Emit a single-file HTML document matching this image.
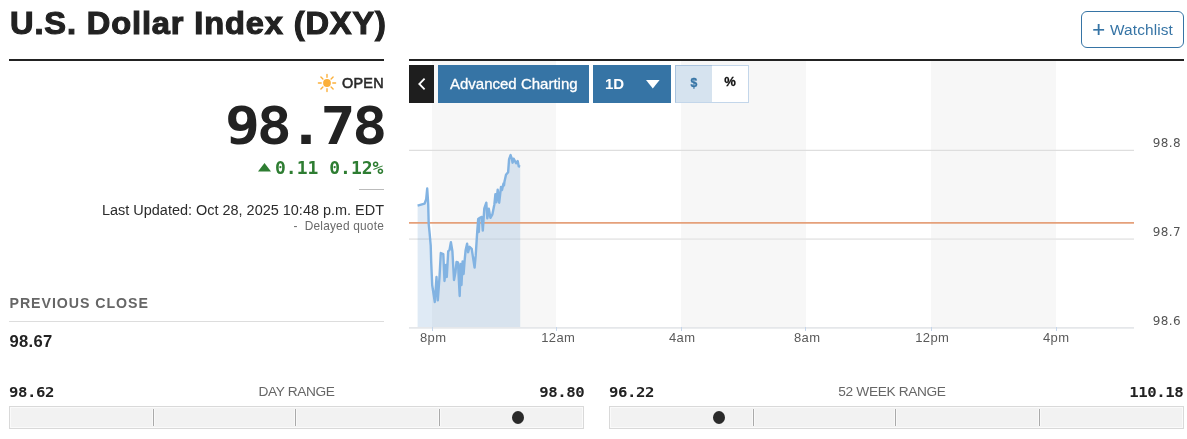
<!DOCTYPE html>
<html><head><meta charset="utf-8">
<style>
*{box-sizing:border-box;margin:0;padding:0}
html,body{width:1187px;height:439px;background:#fff;overflow:hidden}
body{font-family:"Liberation Sans",sans-serif;color:#222;position:relative}
.abs{position:absolute;white-space:nowrap}
h1{left:10.2px;top:4.6px;font-size:30.6px;font-weight:bold;line-height:36px;color:#222;transform-origin:0 0;transform:scaleX(1.065);-webkit-text-stroke:1.1px #222;letter-spacing:0.82px}
.wl{left:1081px;top:11px;width:103px;height:37px;border:1px solid #3674a5;border-radius:6px;color:#3674a5;font-size:15.4px;line-height:35px}
.rule{background:#222;height:2px}
.open{right:803.2px;top:73.6px;font-size:14.4px;font-weight:normal;-webkit-text-stroke:0.55px #2a2a2a;color:#2a2a2a;line-height:18px;letter-spacing:0.25px}
.price{right:803.3px;top:94px;font-family:"DejaVu Sans Mono",monospace;font-weight:bold;font-size:52px;line-height:64px;color:#222;transform-origin:100% 0;transform:scaleX(1.12);letter-spacing:-2.9px}
.chg{right:803.6px;top:158px;font-family:"DejaVu Sans Mono",monospace;font-weight:bold;font-size:18px;line-height:20px;color:#2e7d32}
.upd{right:803px;top:200.6px;font-size:14.46px;line-height:18px;color:#2b2b2b}
.dq{right:803px;top:217.6px;font-size:11.9px;line-height:16px;color:#6a6a6a;letter-spacing:0.2px}
.pc{left:9.5px;top:293.6px;font-size:14.2px;font-weight:bold;letter-spacing:0.95px;color:#666;line-height:18px}
.pcv{left:9.5px;top:332px;font-size:16.6px;font-weight:bold;color:#222;line-height:20px;letter-spacing:0.3px}
.mono{font-family:"DejaVu Sans Mono",monospace;font-weight:bold;font-size:14px;line-height:18px;color:#222;letter-spacing:-0.39px;transform:scaleX(1.12);transform-origin:0 0}
.mr{transform-origin:100% 0}
.rl{font-size:13.7px;color:#666;line-height:18px;letter-spacing:-0.35px;width:575px;text-align:center}
.bar{height:23px;border:1px solid #d9d9d9;background:#f2f2f2;box-shadow:inset 0 0 0 1px #fafafa}
.tick{width:1px;height:17px;top:409px;background:#aaa;box-shadow:-1px 0 0 #f9f9f9,1px 0 0 #f9f9f9}
.dot{width:12px;height:13px;border-radius:50%;background:#2a2a2a;top:411px}
.btn{height:37.5px;top:65px;background:#3674a5;color:#fff;font-size:15px;line-height:37px}
.ax{font-size:13px;color:#5a5a5a;line-height:16px;top:330px;width:60px;text-align:center;letter-spacing:0.4px;text-indent:0.4px}
.yl{font-family:"DejaVu Sans",sans-serif;font-size:12px;color:#555;line-height:14px;right:6px;letter-spacing:0.4px}
</style></head><body>
<h1 class="abs">U.S. Dollar Index (DXY)</h1>
<div class="abs wl"><span class="abs" style="left:10.3px;top:0;font-size:22px;line-height:35px;-webkit-text-stroke:0.15px #3674a5">+</span><span class="abs" style="left:28px;top:0;letter-spacing:0.12px">Watchlist</span></div>
<div class="abs rule" style="left:9px;top:59px;width:375px"></div>
<div class="abs rule" style="left:409px;top:59px;width:775px"></div>

<svg class="abs" style="left:317.4px;top:73px" width="20" height="20" viewBox="-10 -10 20 20"><circle r="3.9" fill="#fbb03b"/><g stroke="#fbb03b" stroke-width="1.4" stroke-linecap="round"><path d="M0-5.8V-8.6M0 5.8V8.6M-5.8 0H-8.6M5.8 0H8.6M4.1-4.1L6.1-6.1M-4.1-4.1L-6.1-6.1M4.1 4.1L6.1 6.1M-4.1 4.1L-6.1 6.1"/></g></svg>
<div class="abs open">OPEN</div>
<div class="abs price">98.78</div>
<svg class="abs" style="left:258px;top:163px" width="13" height="9"><path d="M0 8.5L6.5 0L13 8.5Z" fill="#2e7d32"/></svg>
<div class="abs chg">0.11 0.12%</div>
<div class="abs" style="left:359px;top:189px;width:25px;height:1px;background:#bbb"></div>
<div class="abs upd">Last Updated: Oct 28, 2025 10:48 p.m. EDT</div>
<div class="abs dq">-&nbsp;&nbsp;Delayed quote</div>
<div class="abs pc">PREVIOUS CLOSE</div>
<div class="abs" style="left:9px;top:321px;width:375px;height:1px;background:#ddd"></div>
<div class="abs pcv">98.67</div>

<!-- chart -->
<svg class="abs" style="left:409px;top:61px" width="778" height="290" viewBox="409 61 778 290">
<rect x="432" y="61" width="124" height="266" fill="#f7f7f7"/>
<rect x="681" y="61" width="125" height="266" fill="#f7f7f7"/>
<rect x="931" y="61" width="125" height="266" fill="#f7f7f7"/>
<path d="M409 150.4H1134" stroke="#dedede" stroke-width="1.2" fill="none"/><path d="M409 239.2H1134" stroke="#e9e9e9" stroke-width="1.8" fill="none"/>
<path fill="rgba(110,160,210,0.22)" stroke="none" d="M417.6,205.7L424.6,203.7L426.2,199.2L427.2,188.5L428.2,204.2L428.7,224L429.7,234L430.7,245.3L431.2,262L432.2,285L434.8,302L436.5,277L437.8,300.4L439.5,277L440.8,253L443.3,254L444.5,281L446.0,265L446.8,277L448.2,251.3L449.5,250L450.9,242.2L452.4,251.3L454,280L455.5,272L456.5,262L458,262.4L458.6,275L459.7,296L460.6,264L461.5,285L462.6,261.4L463.6,274L464.6,260.9L465.6,250.3L467.1,243.7L468.1,252.3L469.6,246.8L471.7,248.8L472.7,255.4L474.6,267.6L475.7,255.4L477.2,232L478.2,219L478.8,232L479.4,218L481.8,216.9L482.8,230.6L484.3,208.3L486.3,202.7L487.3,218.4L488.8,208.8L490.4,217.9L492.4,214.3L494.4,204.2L495.4,194.1L496.4,202.2L497.7,189.6L499.2,202.7L501,187L502,190L503.5,183.4L504,185.4L504.5,181.4L506,174.8L508.1,172.3L509.1,159.1L510.6,155.1L511.6,158.1L512.6,162.7L513.6,158.6L516.1,163.2L517.7,161.1L518.7,166.2L520.2,166.5L520.2,327L417.6,327Z"/>
<path d="M409 327.9H1134" stroke="#e5e7ea" stroke-width="1.8" fill="none"/>
<path d="M432.5 327V331M556.5 327V331M681.5 327V331M805.5 327V331M931.5 327V331M1056.5 327V331" stroke="#c5d5ea" stroke-width="1"/>
<path d="M409 222.8H1134" stroke="#e5a07a" stroke-width="1.8" fill="none"/>
<polyline id="ln" fill="none" stroke="#82b3e2" stroke-width="2.4" stroke-linejoin="round" points="417.6,205.7 424.6,203.7 426.2,199.2 427.2,188.5 428.2,204.2 428.7,224 429.7,234 430.7,245.3 431.2,262 432.2,285 434.8,302 436.5,277 437.8,300.4 439.5,277 440.8,253 443.3,254 444.5,281 446.0,265 446.8,277 448.2,251.3 449.5,250 450.9,242.2 452.4,251.3 454,280 455.5,272 456.5,262 458,262.4 458.6,275 459.7,296 460.6,264 461.5,285 462.6,261.4 463.6,274 464.6,260.9 465.6,250.3 467.1,243.7 468.1,252.3 469.6,246.8 471.7,248.8 472.7,255.4 474.6,267.6 475.7,255.4 477.2,232 478.2,219 478.8,232 479.4,218 481.8,216.9 482.8,230.6 484.3,208.3 486.3,202.7 487.3,218.4 488.8,208.8 490.4,217.9 492.4,214.3 494.4,204.2 495.4,194.1 496.4,202.2 497.7,189.6 499.2,202.7 501,187 502,190 503.5,183.4 504,185.4 504.5,181.4 506,174.8 508.1,172.3 509.1,159.1 510.6,155.1 511.6,158.1 512.6,162.7 513.6,158.6 516.1,163.2 517.7,161.1 518.7,166.2 520.2,166.5"/>
</svg>
<div class="abs btn" style="left:409px;width:25px;background:#1e1e1e"><svg class="abs" style="left:8px;top:12px" width="10" height="14"><path d="M7.6 1.6L2.3 7L7.6 12.4" stroke="#fff" stroke-width="1.8" fill="none"/></svg></div>
<div class="abs btn" style="left:438px;width:151px;padding-left:12px;-webkit-text-stroke:0.3px #fff">Advanced Charting</div>
<div class="abs btn" style="left:593px;width:78px;padding-left:12px;font-weight:bold">1D<svg class="abs" style="left:52.5px;top:15px" width="14" height="9"><path d="M0 0H13.6L6.8 8.6Z" fill="#fff"/></svg></div>
<div class="abs" style="left:675px;top:65px;width:74px;height:37.5px;border:1px solid #c3d6ea;background:#fff"></div>
<div class="abs" style="left:675px;top:65px;width:37px;height:37.5px;border:1px solid #a9c3de;border-right:0;border-bottom-color:#c3d6ea;background:#d6e3ef;color:#3674a5;font-weight:bold;font-size:12.2px;line-height:34px;text-align:center;-webkit-text-stroke:0.3px #3674a5">$</div>
<div class="abs" style="left:712px;top:65px;width:36px;height:37.5px;color:#111;font-weight:bold;font-size:13px;line-height:34.5px;text-align:center;-webkit-text-stroke:0.3px #111">%</div>

<div class="abs yl" style="top:136px">98.8</div>
<div class="abs yl" style="top:225px">98.7</div>
<div class="abs yl" style="top:314px">98.6</div>
<div class="abs ax" style="left:403px">8pm</div>
<div class="abs ax" style="left:528px">12am</div>
<div class="abs ax" style="left:652px">4am</div>
<div class="abs ax" style="left:777px">8am</div>
<div class="abs ax" style="left:902px">12pm</div>
<div class="abs ax" style="left:1026px">4pm</div>

<div class="abs mono" style="left:9px;top:383px">98.62</div>
<div class="abs rl" style="left:9px;top:383px">DAY RANGE</div>
<div class="abs mono mr" style="right:603.3px;top:383px">98.80</div>
<div class="abs bar" style="left:9px;top:406px;width:575px"></div>
<div class="abs tick" style="left:153px"></div><div class="abs tick" style="left:295px"></div><div class="abs tick" style="left:439px"></div>
<div class="abs dot" style="left:512px"></div>
<div class="abs mono" style="left:609px;top:383px">96.22</div>
<div class="abs rl" style="left:604.5px;top:383px">52 WEEK RANGE</div>
<div class="abs mono mr" style="right:3.5px;top:383px">110.18</div>
<div class="abs bar" style="left:609px;top:406px;width:575px"></div>
<div class="abs tick" style="left:753px"></div><div class="abs tick" style="left:895px"></div><div class="abs tick" style="left:1039px"></div>
<div class="abs dot" style="left:713px"></div>
</body></html>
